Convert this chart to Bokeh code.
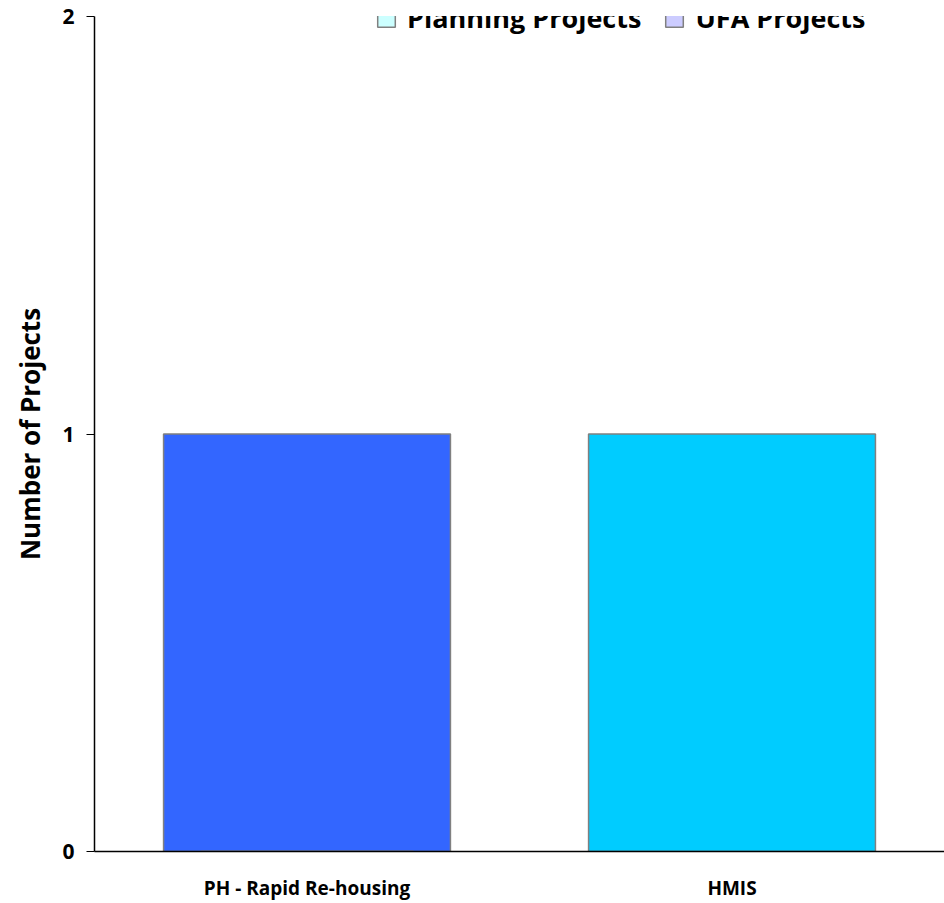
from bokeh.plotting import figure
from bokeh.models import ColumnDataSource, Legend, LegendItem, FactorRange
from bokeh.embed import file_html
from bokeh.resources import INLINE

categories = ["PH - Rapid Re-housing", "HMIS"]
values = [1, 1]
bar_colors = ["#3366FF", "#00CCFF"]
legend_labels = ["Planning Projects", "UFA Projects"]
legend_colors = ["#CCFFFF", "#CCCCFF"]
y_ticks = [0, 1, 2]

FONT = "Open Sans"

p = figure(width=944, height=903, x_range=FactorRange(*categories, range_padding=0),
           y_range=(0, 2), output_backend="svg", toolbar_location=None,
           min_border_left=94, min_border_right=0, min_border_top=16, min_border_bottom=52)
p.outline_line_color = None
p.xgrid.grid_line_color = None
p.ygrid.grid_line_color = None

src = ColumnDataSource(dict(x=categories, top=values, color=bar_colors))
p.vbar(x="x", top="top", width=0.675, source=src, fill_color="color",
       line_color="#808080", line_width=1.5)

leg_items = []
for lab, col in zip(legend_labels, legend_colors):
    # placed below the visible range: only its legend swatch shows
    r = p.vbar(x=[categories[0]], top=[-1], bottom=[-2], width=0.5, fill_color=col,
               line_color="#808080", line_width=1.5)
    leg_items.append(LegendItem(label=lab, renderers=[r]))

legend = Legend(items=leg_items, orientation="horizontal", location=(281, 815),
                background_fill_alpha=0, border_line_color=None, padding=0, margin=0,
                glyph_width=22, glyph_height=22, label_standoff=10, spacing=22,
                label_text_font=FONT, label_text_font_style="bold",
                label_text_font_size="27px", label_text_color="black")
p.add_layout(legend, "center")

p.yaxis.ticker = y_ticks
p.yaxis.major_tick_out = 8
p.yaxis.major_tick_in = 0
p.yaxis.minor_tick_line_color = None
p.yaxis.major_label_standoff = 12
p.yaxis.major_label_text_font = FONT
p.yaxis.major_label_text_font_style = "bold"
p.yaxis.major_label_text_font_size = "21px"
p.yaxis.major_label_text_color = "black"
p.yaxis.axis_label = "Number of Projects"
p.yaxis.axis_label_text_font = FONT
p.yaxis.axis_label_text_font_style = "bold"
p.yaxis.axis_label_text_font_size = "26px"
p.yaxis.axis_label_text_color = "black"
p.yaxis.axis_label_standoff = 11
p.yaxis.axis_line_color = "black"
p.yaxis.axis_line_width = 1.5

p.xaxis.major_tick_line_color = None
p.xaxis.major_tick_out = 0
p.xaxis.major_label_standoff = 23
p.xaxis.major_label_text_font = FONT
p.xaxis.major_label_text_font_style = "bold"
p.xaxis.major_label_text_font_size = "19px"
p.xaxis.major_label_text_color = "black"
p.xaxis.axis_line_color = "black"
p.xaxis.axis_line_width = 1.5

open("out.html", "w").write(file_html(p, INLINE))
